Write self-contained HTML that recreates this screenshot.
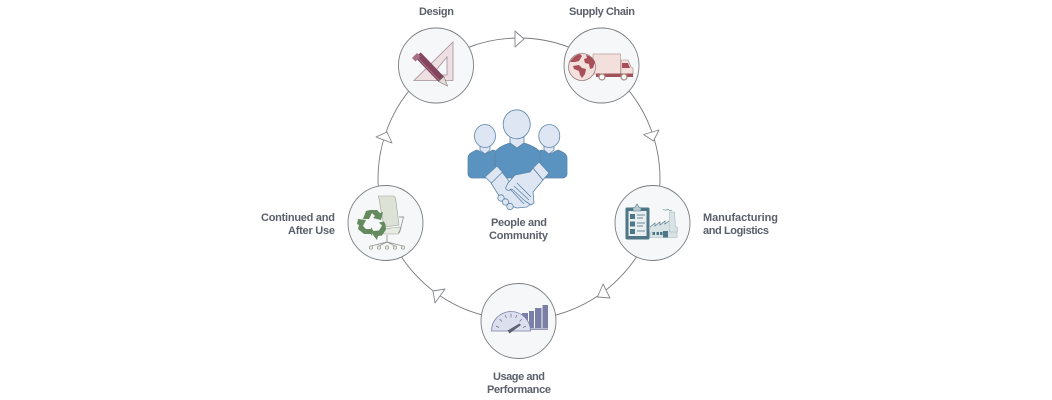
<!DOCTYPE html>
<html><head><meta charset="utf-8"><style>
html,body{margin:0;padding:0;background:#fff}
svg{display:block}
text{font-family:"Liberation Sans",sans-serif;font-weight:700;font-size:11px;fill:#5b606a}
</style></head><body>
<svg width="1052" height="400" viewBox="0 0 1052 400" xmlns="http://www.w3.org/2000/svg">
<circle cx="519" cy="179" r="141" fill="none" stroke="#77797c" stroke-width=".9"/>
<g fill="#fff" stroke="#85878a" stroke-width=".9" stroke-linejoin="round">
<polygon points="515,31 515,47 524,39"/>
<polygon points="643.5,134.5 659,130 653.5,141"/>
<polygon points="603,284 610,298 597.5,297"/>
<polygon points="445,289 435,303 433,291"/>
<polygon points="376,137 392,143 387,132"/>
</g>
<g fill="#f5f7f8" stroke="#7b7d80" stroke-width=".9">
<circle cx="436" cy="65.5" r="37.5"/>
<circle cx="601.5" cy="65.5" r="37.5"/>
<circle cx="652.5" cy="223" r="37.5"/>
<circle cx="518.5" cy="321" r="37.5"/>
<circle cx="385.5" cy="223" r="37.5"/>
</g>

<!-- Design -->
<polygon points="453,42 453,80.500 414,80.500" fill="#eedfe3" stroke="#a58d95" stroke-width=".8"/>
<polygon points="447,57 447,75 432,75" fill="#f5f7f8" stroke="#a58d95" stroke-width=".8"/>
<path d="M418 55L441 79" stroke="#84455f" stroke-width="7.500"/>
<path d="M416.500 56.500L439.500 80.500" stroke="#a76f86" stroke-width="1"/>
<path d="M417 53L420.500 56.500L415.500 61.500L412 58Z" fill="#a76f86"/>
<polygon points="438.500,81.500 444,76.500 447.500,86" fill="#e9ddd8" stroke="#77777a" stroke-width=".6"/>

<!-- Supply Chain -->
<rect x="593" y="54" width="27.500" height="20" fill="#f3dfdb" stroke="#b59a97" stroke-width=".7"/>
<path d="M621 60h7l3 7 2 1v6h-12z" fill="#f3dfdb" stroke="#a58a88" stroke-width=".6"/>
<path d="M622 63h6l2 5h-8z" fill="#a84f5a"/>
<rect x="596" y="73.500" width="37" height="3.500" fill="#a3525c"/>
<circle cx="602" cy="77" r="3" fill="#fff" stroke="#a58a7c" stroke-width="1.200"/>
<circle cx="624" cy="77" r="3" fill="#fff" stroke="#a58a7c" stroke-width="1.200"/>
<circle cx="582" cy="67" r="13.500" fill="#f3dfdb" stroke="#9a7f80" stroke-width=".8"/>
<path d="M570 62c2-4 6-7 10-8l2 2-3 5-4 1zM573 66l6-1 3 3 4 1-1 5-3 4-2-3-1-4-5-2zM586 55c4 1 7 3 9 7l-2 6-3 1-1-5-4-1-1-4 3-1z" fill="#a84f5a"/>

<!-- Manufacturing -->
<path d="M650 231h27v6.500h-27z" fill="#d8e3e6" stroke="#9db1b8" stroke-width=".5"/>
<path d="M650 227l5-4v3l5-4v3l5-4v3l4-3v11h-19z" fill="#d8e3e6"/>
<path d="M650 227l5-4v3l5-4v3l5-4v3l4-3" fill="none" stroke="#5a7d8b" stroke-width=".7"/>
<path d="M669.500 212h5l1 15h2v5h-8z" fill="#d8e3e6" stroke="#9db1b8" stroke-width=".5"/>
<rect x="663" y="231" width="5" height="6.500" fill="#4d7686"/>
<g fill="#4d7686"><rect x="652.500" y="232" width="2.500" height="3"/><rect x="656.500" y="232" width="2.500" height="3"/><rect x="660" y="232" width="2.500" height="3"/></g>
<path d="M663 210c1-1.500 2 1 3 0s2-1 3 0 2 1 3 0" fill="none" stroke="#6d8d9a" stroke-width=".7"/>
<rect x="625.500" y="207.500" width="24" height="32" rx="1.500" fill="#4d7686"/>
<rect x="628.500" y="211" width="18" height="25" fill="#e9eef0"/>
<path d="M633 208l2-1 2-3 2 3 2 1v3h-8z" fill="#b9c9cf" stroke="#4d7686" stroke-width=".6"/>
<g fill="#4d7686"><rect x="630" y="214" width="5" height="5"/><rect x="630" y="221.500" width="5" height="5"/><rect x="630" y="229" width="5" height="5"/></g>
<g stroke="#6a8b98" stroke-width=".9"><path d="M637 215h8M637 218h6M637 223h8M637 226h6M637 231h8"/></g>

<!-- Usage -->
<g fill="#7a7fa8"><rect x="522" y="313" width="6" height="15"/><rect x="529" y="311" width="5" height="17"/><rect x="535" y="308" width="6.500" height="20"/><rect x="542.500" y="305" width="5.500" height="23"/></g>
<rect x="530" y="328.500" width="18" height="1.300" fill="#7a7fa8"/>
<path d="M491.500 331a19.500 19.500 0 0 1 39 0z" fill="#dcdfee" stroke="#7c80a6" stroke-width=".8"/>
<path d="M488 331.500h8M520 331.500h9" stroke="#7c80a6" stroke-width=".8" opacity="0"/>
<polygon points="507.500,330.500 509.500,333.500 521,325 519.500,323.500" fill="#5d6172"/>
<path d="M496 326l3 1.500M499.500 319l2.500 2.500M505 315l1.500 3M511 313.500v4M517 315l-1.500 3M522 319l-2.500 2.500M526 326l-3 1.500" stroke="#6d7090" stroke-width=".7"/>

<!-- Continued -->
<path d="M378.500 196h15.500l1.500 2 3.500 27-15 2z" fill="#dce3d6" stroke="#9aa196" stroke-width=".6"/>
<path d="M383 229c5 0 12-2 17-2 1 2 0 6-2 7h-14c-2-1-2-3-1-5z" fill="#e6ebe1" stroke="#9aa196" stroke-width=".6"/>
<path d="M399 217h4.500l-3 12-2 4M387 235v8M371 246l16-4 16 4M379 246l8-4 8 4" fill="none" stroke="#969c94" stroke-width=".9"/>
<g fill="#e6ebe1" stroke="#8d958a" stroke-width=".7"><circle cx="371" cy="247.500" r="1.700"/><circle cx="379" cy="247.500" r="1.700"/><circle cx="387" cy="247.500" r="1.700"/><circle cx="395" cy="247.500" r="1.700"/><circle cx="403" cy="247.500" r="1.700"/></g>
<g fill="#648a5e">
<path d="M363 219l3-8 4-1h7l3 3 3-1-2 8-8-2 2-2-3-3-3 6z"/>
<path d="M358 219l8 1-1 2-2 4 3 3h5v-2l3 5-3 4v-2h-7l-6-5 1-4-2-1z"/>
<path d="M373 231l6-.500 3-5-3-3 5-1 1.500 3 .500 5-4 6-4 .500-1 4-4-5z"/>
</g>

<!-- People -->
<g stroke="#5c84a8" stroke-width=".8" stroke-linejoin="round">
<path d="M468 158c0-4 4-6 9-8l8 4 8-4 6 2v26h-27c-2 0-4-2-4-4z" fill="#5a93c0"/>
<path d="M567 158c0-4-4-6-9-8l-8 4-8-4-6 2v26h27c2 0 4-2 4-4z" fill="#5a93c0"/>
<path d="M495 153c1-4 8-8 15-10l7 5 7-5c7 2 15 6 16 10v25h-45z" fill="#5a93c0"/>
<path d="M480 146v4l5 4 5-4v-4zM554 146v4l-5 4-5-4v-4zM510 137v6l7 5 7-5v-6z" fill="#dde6f2"/>
<ellipse cx="485" cy="136" rx="10.500" ry="11.500" fill="#dde6f2"/>
<ellipse cx="549.300" cy="136" rx="10.500" ry="11.500" fill="#dde6f2"/>
<ellipse cx="516.700" cy="124.300" rx="13.500" ry="14.500" fill="#dde6f2"/>
<path d="M491 183l11-11 7 9 0 3 23 19-5 4-10 1-6-2-10-7z" fill="#dde6f2"/>
<path d="M508 183l7-8 15-3 3-4 10 12-10 12 1 11-3 2-6-4-13-12-2 1c-3 1-5-1-4-3z" fill="#dde6f2"/>
<path d="M514 186l15 14M510 189l14 15M517 183l14 14" fill="none"/>
<path d="M485 177l12-11 5.500 6-11 11z" fill="#dde6f2"/>
<path d="M539 162l10 11-6 7-10-12z" fill="#dde6f2"/>
<circle cx="501" cy="198" r="3.200" fill="#dde6f2"/><circle cx="505.500" cy="202" r="3.200" fill="#dde6f2"/><circle cx="510" cy="206.500" r="3.200" fill="#dde6f2"/>
</g>

<text x="419" y="15" textLength="35" lengthAdjust="spacing">Design</text>
<text x="569" y="15" textLength="66" lengthAdjust="spacing">Supply Chain</text>
<text x="703" y="221" textLength="75" lengthAdjust="spacing">Manufacturing</text>
<text x="703" y="234" textLength="66" lengthAdjust="spacing">and Logistics</text>
<text x="493" y="380" textLength="52" lengthAdjust="spacing">Usage and</text>
<text x="487" y="393" textLength="64" lengthAdjust="spacing">Performance</text>
<text x="261" y="221" textLength="74" lengthAdjust="spacing">Continued and</text>
<text x="288" y="234" textLength="47" lengthAdjust="spacing">After Use</text>
<text x="491" y="226" textLength="56" lengthAdjust="spacing">People and</text>
<text x="489" y="239" textLength="59" lengthAdjust="spacing">Community</text>
</svg>
</body></html>
